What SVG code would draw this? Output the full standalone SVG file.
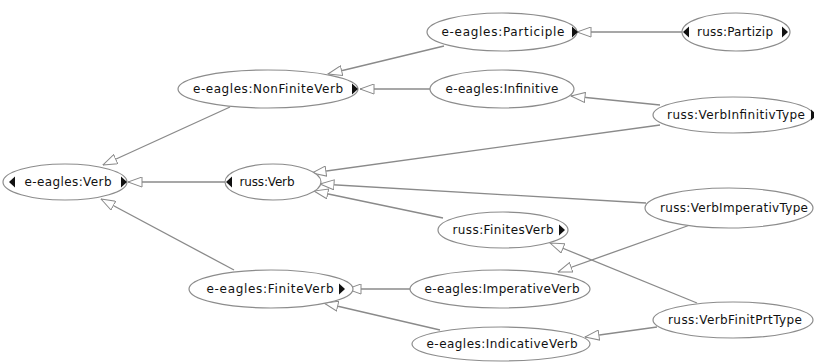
<svg xmlns="http://www.w3.org/2000/svg" width="814" height="362" viewBox="0 0 814 362">
<style>
.n ellipse{fill:#fff;stroke:#8c8c8c;stroke-width:1.2}
.n text{font-family:"DejaVu Sans",sans-serif;font-size:12px;fill:#111;text-anchor:middle}
.n path{fill:#111}
#edges line{stroke:#8a8a8a;stroke-width:1.3;marker-end:url(#h)}
</style>
<defs>
<marker id="h" viewBox="0 0 15 11" refX="14.5" refY="5.5" markerWidth="15" markerHeight="11" markerUnits="userSpaceOnUse" orient="auto">
<path d="M14.5,5.5 L0.5,0.5 L0.5,10.5 Z" fill="#fff" stroke="#8a8a8a" stroke-width="1"/>
</marker>
</defs>
<rect width="814" height="362" fill="#fff"/>
<g id="edges">
<line x1="444" y1="46" x2="328" y2="74"/>
<line x1="430" y1="89" x2="360" y2="89"/>
<line x1="230" y1="107" x2="103" y2="165"/>
<line x1="227" y1="182" x2="128" y2="182"/>
<line x1="234" y1="270" x2="101" y2="199"/>
<line x1="683" y1="32" x2="577" y2="32"/>
<line x1="660" y1="105" x2="571" y2="96"/>
<line x1="660" y1="125" x2="312" y2="173"/>
<line x1="646" y1="203" x2="320" y2="184"/>
<line x1="443" y1="218" x2="314" y2="191"/>
<line x1="690" y1="225" x2="558" y2="272"/>
<line x1="697" y1="303" x2="550" y2="243"/>
<line x1="410" y1="289" x2="347" y2="289"/>
<line x1="440" y1="330" x2="324" y2="303"/>
<line x1="657" y1="327" x2="585" y2="337"/>
</g>
<g id="e-eagles-Verb" class="n">
<ellipse cx="65" cy="182" rx="62" ry="18"/>
<text x="68" y="186" textLength="87" lengthAdjust="spacing">e-eagles:Verb</text>
<path d="M9,182 L15,176.5 L15,187.5 Z"/>
<path d="M121,176.5 L127,182 L121,187.5 Z"/>
</g>
<g id="russ-Verb" class="n">
<ellipse cx="273" cy="182" rx="48" ry="18"/>
<text x="267" y="186" textLength="55" lengthAdjust="spacing">russ:Verb</text>
<path d="M226,182 L232,176.5 L232,187.5 Z"/>
</g>
<g id="e-eagles-NonFiniteVerb" class="n">
<ellipse cx="268" cy="89" rx="90" ry="19"/>
<text x="268" y="93" textLength="150" lengthAdjust="spacing">e-eagles:NonFiniteVerb</text>
<path d="M352,83.5 L358,89 L352,94.5 Z"/>
</g>
<g id="e-eagles-Participle" class="n">
<ellipse cx="502" cy="32" rx="75" ry="19"/>
<text x="503" y="36" textLength="123" lengthAdjust="spacing">e-eagles:Participle</text>
<path d="M572,26.5 L578,32 L572,37.5 Z"/>
</g>
<g id="russ-Partizip" class="n">
<ellipse cx="736" cy="32" rx="54" ry="19"/>
<text x="735" y="36" textLength="76" lengthAdjust="spacing">russ:Partizip</text>
<path d="M683,32 L689,26.5 L689,37.5 Z"/>
<path d="M782,26.5 L788,32 L782,37.5 Z"/>
</g>
<g id="e-eagles-Infinitive" class="n">
<ellipse cx="502" cy="89" rx="72" ry="19"/>
<text x="502" y="93" textLength="113" lengthAdjust="spacing">e-eagles:Infinitive</text>
</g>
<g id="russ-VerbInfinitivType" class="n">
<ellipse cx="733" cy="115" rx="80" ry="18"/>
<text x="736" y="119" textLength="138" lengthAdjust="spacing">russ:VerbInfinitivType</text>
<path d="M811,109.5 L817,115 L811,120.5 Z"/>
</g>
<g id="russ-VerbImperativType" class="n">
<ellipse cx="729" cy="208" rx="84" ry="20"/>
<text x="734" y="212" textLength="148" lengthAdjust="spacing">russ:VerbImperativType</text>
</g>
<g id="russ-FinitesVerb" class="n">
<ellipse cx="503" cy="230" rx="65" ry="18"/>
<text x="503" y="234" textLength="101" lengthAdjust="spacing">russ:FinitesVerb</text>
<path d="M559,224.5 L565,230 L559,235.5 Z"/>
</g>
<g id="e-eagles-ImperativeVerb" class="n">
<ellipse cx="500" cy="289" rx="90" ry="19"/>
<text x="502" y="293" textLength="155" lengthAdjust="spacing">e-eagles:ImperativeVerb</text>
</g>
<g id="e-eagles-IndicativeVerb" class="n">
<ellipse cx="501" cy="344" rx="89" ry="17"/>
<text x="502" y="348" textLength="151" lengthAdjust="spacing">e-eagles:IndicativeVerb</text>
</g>
<g id="russ-VerbFinitPrtType" class="n">
<ellipse cx="733" cy="320" rx="80" ry="18"/>
<text x="735" y="324" textLength="134" lengthAdjust="spacing">russ:VerbFinitPrtType</text>
</g>
<g id="e-eagles-FiniteVerb" class="n">
<ellipse cx="271" cy="289" rx="82" ry="19"/>
<text x="270" y="293" textLength="127" lengthAdjust="spacing">e-eagles:FiniteVerb</text>
<path d="M339,283.5 L345,289 L339,294.5 Z"/>
</g>
</svg>
